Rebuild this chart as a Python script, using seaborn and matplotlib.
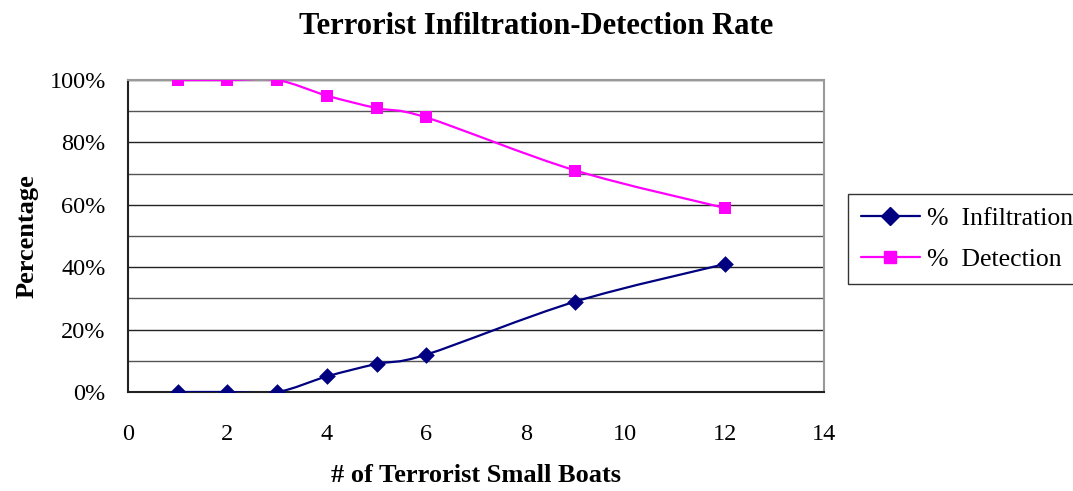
import matplotlib
matplotlib.use("Agg")
import matplotlib.pyplot as plt
from matplotlib.path import Path
from matplotlib.patches import PathPatch
from matplotlib.lines import Line2D
from matplotlib.ticker import MultipleLocator, PercentFormatter
import seaborn as sns
import pandas as pd

boats = [1, 2, 3, 4, 5, 6, 9, 12]
infiltration = [0, 0, 0, 5, 9, 12, 29, 41]
detection = [100, 100, 100, 95, 91, 88, 71, 59]

sns.set_theme(style="white")
plt.rcParams["font.family"] = ["Liberation Serif", "DejaVu Serif"]
plt.rcParams["text.color"] = "black"
plt.rcParams["axes.labelcolor"] = "black"

df = pd.DataFrame({"boats": boats, "% Infiltration": infiltration, "% Detection": detection})


def smooth_path(xs, ys):
    # excel style smoothed line: bezier segments with catmull-rom control points
    pts = list(zip(xs, ys))
    verts = [pts[0]]
    codes = [Path.MOVETO]
    n = len(pts)
    for i in range(n - 1):
        p0 = pts[i - 1] if i > 0 else pts[i]
        p1 = pts[i]
        p2 = pts[i + 1]
        p3 = pts[i + 2] if i + 2 < n else pts[i + 1]
        c1 = (p1[0] + (p2[0] - p0[0]) / 6, p1[1] + (p2[1] - p0[1]) / 6)
        c2 = (p2[0] - (p3[0] - p1[0]) / 6, p2[1] - (p3[1] - p1[1]) / 6)
        verts += [c1, c2, p2]
        codes += [Path.CURVE4] * 3
    return Path(verts, codes)


fig = plt.figure(figsize=(10.73, 4.91), dpi=100)
ax = fig.add_axes([0.1193, 0.2016, 0.6487, 0.6354])

series = [("% Infiltration", "#000080", "D", 72), ("% Detection", "#FF00FF", "s", 78)]
for col, color, mk, sz in series:
    ax.add_patch(PathPatch(smooth_path(df["boats"], df[col]), facecolor="none",
                           edgecolor=color, lw=1.6, zorder=3))
    sns.scatterplot(data=df, x="boats", y=col, ax=ax, color=color, marker=mk,
                    s=sz, edgecolor=color, linewidth=0, zorder=4, legend=False)

ax.set_xlim(0, 14)
ax.set_ylim(0, 100)
ax.xaxis.set_major_locator(MultipleLocator(2))
ax.yaxis.set_major_locator(MultipleLocator(20))
ax.yaxis.set_minor_locator(MultipleLocator(10))
ax.yaxis.set_major_formatter(PercentFormatter(decimals=0))

ax.grid(True, axis="y", which="major", color="#222222", lw=1.0, zorder=0)
ax.grid(True, axis="y", which="minor", color="#555555", lw=1.0, zorder=0)
ax.set_axisbelow(True)

for s in ["left", "bottom"]:
    ax.spines[s].set_color("#222222")
    ax.spines[s].set_linewidth(1.5)
for s in ["top", "right"]:
    ax.spines[s].set_color("#999999")
    ax.spines[s].set_linewidth(1.5)

ax.tick_params(axis="both", which="major", direction="out", length=7, width=1,
               color="#222222", labelsize=17.5, labelcolor="black")
ax.tick_params(axis="y", pad=9)
ax.tick_params(axis="y", which="minor", length=0)
ax.tick_params(axis="x", pad=16)

ax.set_xlabel("# of Terrorist Small Boats", fontsize=19, fontweight="bold", labelpad=14)
ax.set_ylabel("Percentage", fontsize=19, fontweight="bold", labelpad=8)
fig.suptitle("Terrorist Infiltration-Detection Rate", fontsize=22, fontweight="bold",
             x=0.5, y=0.975)

labels = ["%  Infiltration", "%  Detection"]
handles = [Line2D([], [], color=c, marker=m, markersize=9,
                  lw=1.6, label=lab) for lab, (_, c, m, _) in zip(labels, series)]
leg = fig.legend(handles=handles, loc="upper left", bbox_to_anchor=(0.79, 0.605),
                 bbox_transform=fig.transFigure, fontsize=18.5, frameon=True,
                 fancybox=False, edgecolor="black", handlelength=2.3,
                 borderpad=0.5, labelspacing=0.7, handletextpad=0.3,
                 borderaxespad=0)
leg.get_frame().set_linewidth(1.0)

fig.savefig("out.png", dpi=100)
